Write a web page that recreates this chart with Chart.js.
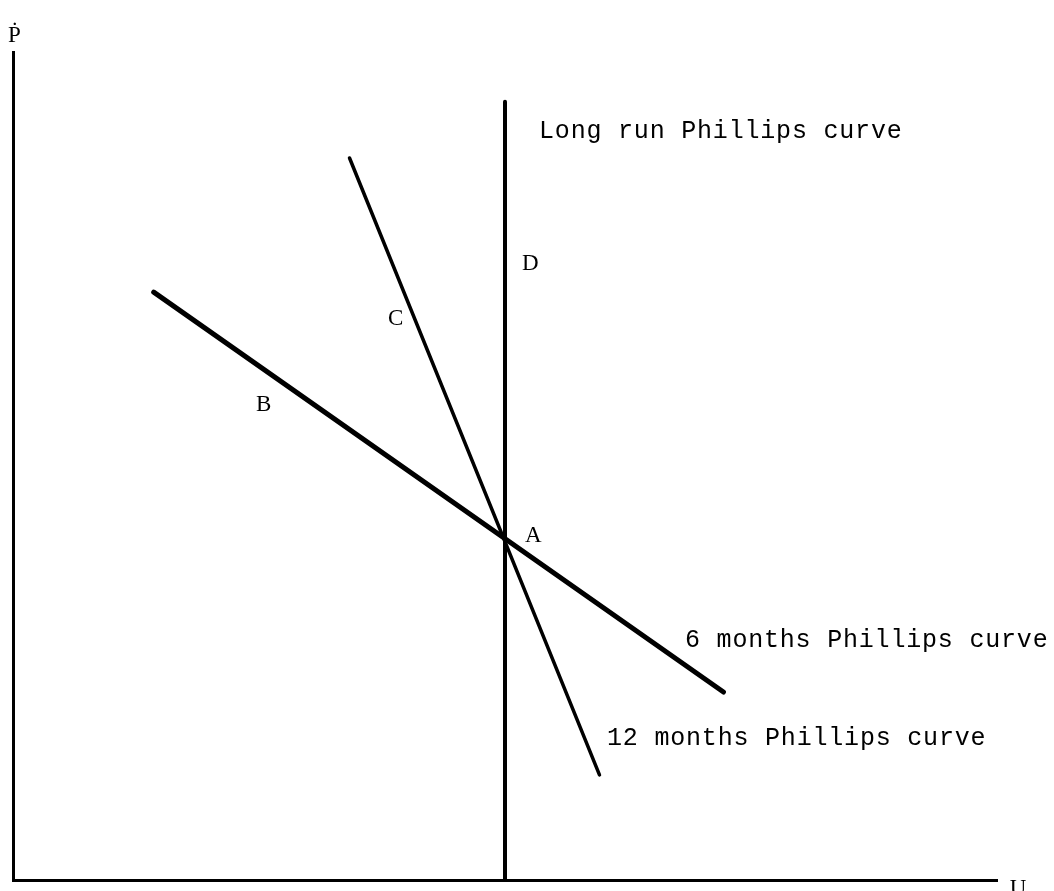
<!DOCTYPE html>
<html>
<head>
<meta charset="utf-8">
<script src="https://cdn.jsdelivr.net/npm/chart.js@4/dist/chart.umd.min.js"></script>
<style>
   body { margin: 0; background: #fff; }
   #wrap { width: 1054px; height: 891px; }
</style>
</head>
<body>
<div id="wrap"><canvas id="phillipsChart" width="1054" height="891"></canvas></div>
<script>
// curves, in axis units (0-100 on both axes)
const longRunX = [50, 50];
const longRunY = [0, 94];
const sixMonthsX = [14.3, 72.2];
const sixMonthsY = [71.0, 22.7];
const twelveMonthsX = [34.2, 59.6];
const twelveMonthsY = [87.2, 12.7];

// curve names (typewriter text): text, x, y (left end / baseline)
const curveText = ['Long run Phillips curve', '6 months Phillips curve', '12 months Phillips curve'];
const curveX = [53.46, 68.29, 60.37];
const curveY = [89.6, 28.1, 16.3];

// point letters and axis names
const letterText = ['D', 'C', 'B', 'A', 'Ṗ', 'U'];
const letterX = [51.73, 38.11, 24.7, 52.03, -0.5, 101.3];
const letterY = [73.7, 67.0, 56.6, 40.8, 101.2, -1.8];

function toPoints(xs, ys) {
   return xs.map((x, i) => ({ x: x, y: ys[i] }));
}

function lineSet(label, xs, ys, width) {
   return {
      label: label,
      data: toPoints(xs, ys),
      showLine: true,
      borderColor: '#000',
      borderWidth: width,
      borderCapStyle: 'round',
      pointRadius: 0,
      clip: false
   };
}

const textLabels = {
   id: 'textLabels',
   afterDraw(chart) {
      const ctx = chart.ctx;
      const xs = chart.scales.x;
      const ys = chart.scales.y;
      ctx.save();
      ctx.fillStyle = '#000';
      ctx.textBaseline = 'alphabetic';
      ctx.textAlign = 'left';
      ctx.font = '25px "Liberation Mono", monospace';
      ctx.letterSpacing = '0.8px';
      curveText.forEach((t, i) => {
         ctx.fillText(t, xs.getPixelForValue(curveX[i]), ys.getPixelForValue(curveY[i]));
      });
      ctx.font = '23px "Liberation Serif", serif';
      ctx.letterSpacing = '0px';
      letterText.forEach((t, i) => {
         ctx.fillText(t, xs.getPixelForValue(letterX[i]), ys.getPixelForValue(letterY[i]));
      });
      ctx.restore();
   }
};

const ctx = document.getElementById('phillipsChart').getContext('2d');
new Chart(ctx, {
   type: 'scatter',
   data: {
      datasets: [
         lineSet('Long run', longRunX, longRunY, 4),
         lineSet('6 months', sixMonthsX, sixMonthsY, 5),
         lineSet('12 months', twelveMonthsX, twelveMonthsY, 3.5)
      ]
   },
   options: {
      responsive: false,
      animation: false,
      layout: { padding: { left: 13, right: 57, top: 52, bottom: 11 } },
      scales: {
         x: {
            min: 0, max: 100,
            grid: { display: false, drawTicks: false },
            ticks: { display: false },
            border: { display: true, color: '#000', width: 3 }
         },
         y: {
            min: 0, max: 100,
            grid: { display: false, drawTicks: false },
            ticks: { display: false },
            border: { display: true, color: '#000', width: 3 }
         }
      },
      plugins: { legend: { display: false }, tooltip: { enabled: false } }
   },
   plugins: [textLabels]
});
</script>
</body>
</html>
